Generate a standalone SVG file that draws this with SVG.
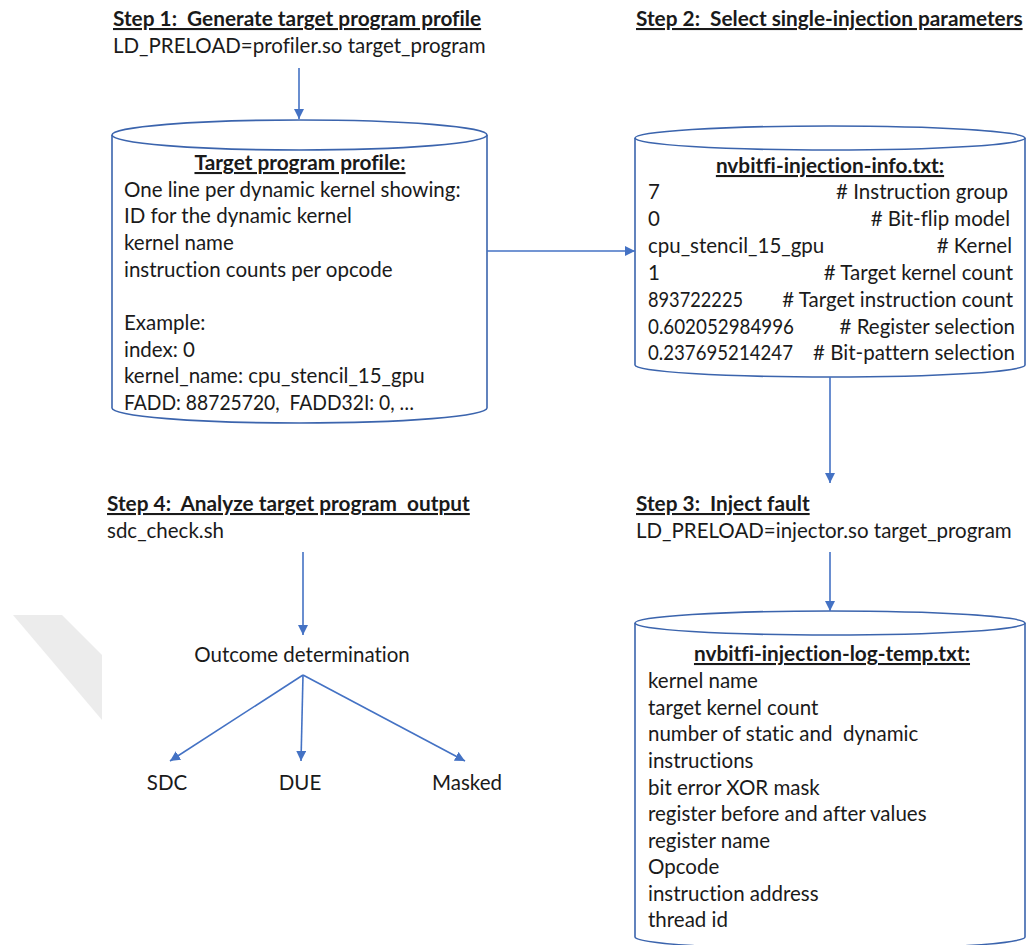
<svg xmlns="http://www.w3.org/2000/svg" width="1027" height="945" viewBox="0 0 1027 945">
<defs>
<marker id="ah" viewBox="0 0 10 10" refX="10" refY="5" markerWidth="10" markerHeight="10" markerUnits="userSpaceOnUse" orient="auto">
<path d="M0,0 L10,5 L0,10 z" fill="#4472C4"/>
</marker>
<style>
text{font-family:Lato,"Open Sans","Liberation Sans",sans-serif;fill:#1a1a1a;font-size:20.5px;white-space:pre;font-variant-ligatures:none}
.h{font-weight:bold;text-decoration:underline;font-size:20.8px}
.c{text-anchor:middle}
.e{text-anchor:end}
.cyl{fill:#fff;stroke:#3B64AD;stroke-width:1.6}
.ln{stroke:#4472C4;stroke-width:1.6;fill:none;marker-end:url(#ah)}
</style>
</defs>
<rect width="1027" height="945" fill="#fff"/>
<polygon points="13,615 62,615 102,655 102,720" fill="#ececec"/>

<g id="step1">
<text class="h" x="113" y="26" xml:space="preserve">Step 1:  Generate target program profile</text>
<text x="113" y="53">LD_PRELOAD=profiler.so target_program</text>
</g>

<g id="profile">
<path class="cyl" d="M112,135 L112,408 A187.5,15 0 0 0 487,408 L487,135"/>
<ellipse class="cyl" cx="299.5" cy="135" rx="187.5" ry="15"/>
<text class="h c" x="300" y="170">Target program profile:</text>
<text x="124" y="197">One line per dynamic kernel showing:</text>
<text x="124" y="223">ID for the dynamic kernel</text>
<text x="124" y="250">kernel name</text>
<text x="124" y="277">instruction counts per opcode</text>
<text x="124" y="330">Example:</text>
<text x="124" y="357">index: 0</text>
<text x="124" y="383">kernel_name: cpu_stencil_15_gpu</text>
<text x="124" y="410" xml:space="preserve" textLength="290" lengthAdjust="spacingAndGlyphs">FADD: 88725720,  FADD32I: 0, …</text>
</g>

<g id="step2">
<text class="h" x="636" y="26" xml:space="preserve">Step 2:  Select single-injection parameters</text>
</g>

<g id="info">
<path class="cyl" d="M635,138 L635,365 A195,12 0 0 0 1025,365 L1025,138"/>
<ellipse class="cyl" cx="830" cy="138" rx="195" ry="12"/>
<text class="h c" x="830" y="173">nvbitfi-injection-info.txt:</text>
<text x="648" y="199">7</text><text class="e" x="1008" y="199"># Instruction group</text>
<text x="648" y="226">0</text><text class="e" x="1010" y="226"># Bit-flip model</text>
<text x="648" y="253">cpu_stencil_15_gpu</text><text class="e" x="1012" y="253"># Kernel</text>
<text x="648" y="280">1</text><text class="e" x="1013" y="280"># Target kernel count</text>
<text x="648" y="307" textLength="95" lengthAdjust="spacingAndGlyphs">893722225</text><text class="e" x="1013" y="307"># Target instruction count</text>
<text x="648" y="334" textLength="146" lengthAdjust="spacingAndGlyphs">0.602052984996</text><text class="e" x="1015" y="334"># Register selection</text>
<text x="648" y="360" textLength="145" lengthAdjust="spacingAndGlyphs">0.237695214247</text><text x="813" y="360" textLength="202" lengthAdjust="spacingAndGlyphs"># Bit-pattern selection</text>
</g>

<g id="step3">
<text class="h" x="636" y="511" xml:space="preserve">Step 3:  Inject fault</text>
<text x="636" y="538">LD_PRELOAD=injector.so target_program</text>
</g>

<g id="log">
<path class="cyl" d="M635,623 L635,937 A195,12 0 0 0 1025,937 L1025,623"/>
<ellipse class="cyl" cx="830" cy="623" rx="195" ry="12"/>
<text class="h c" x="832" y="661">nvbitfi-injection-log-temp.txt:</text>
<text x="648" y="688">kernel name</text>
<text x="648" y="715">target kernel count</text>
<text x="648" y="741" xml:space="preserve">number of static and  dynamic</text>
<text x="648" y="768">instructions</text>
<text x="648" y="795">bit error XOR mask</text>
<text x="648" y="821">register before and after values</text>
<text x="648" y="848">register name</text>
<text x="648" y="874">Opcode</text>
<text x="648" y="901">instruction address</text>
<text x="648" y="927">thread id</text>
</g>

<g id="step4">
<text class="h" x="107" y="511" xml:space="preserve">Step 4:  Analyze target program  output</text>
<text x="107" y="538">sdc_check.sh</text>
</g>

<g id="outcome"><text class="c" x="302" y="662">Outcome determination</text></g>
<g id="sdc"><text class="c" x="167" y="790">SDC</text></g>
<g id="due"><text class="c" x="300" y="790">DUE</text></g>
<g id="masked"><text class="c" x="467" y="790">Masked</text></g>

<g id="connectors">
<line class="ln" x1="299" y1="68" x2="299" y2="119"/>
<line class="ln" x1="487" y1="251" x2="635" y2="251"/>
<line class="ln" x1="830" y1="377" x2="830" y2="483"/>
<line class="ln" x1="830" y1="552" x2="830" y2="611"/>
<line class="ln" x1="303" y1="552" x2="303" y2="635"/>
<line class="ln" x1="303" y1="675" x2="170" y2="761"/>
<line class="ln" x1="303" y1="675" x2="301" y2="761"/>
<line class="ln" x1="303" y1="675" x2="465" y2="761"/>
</g>
</svg>
